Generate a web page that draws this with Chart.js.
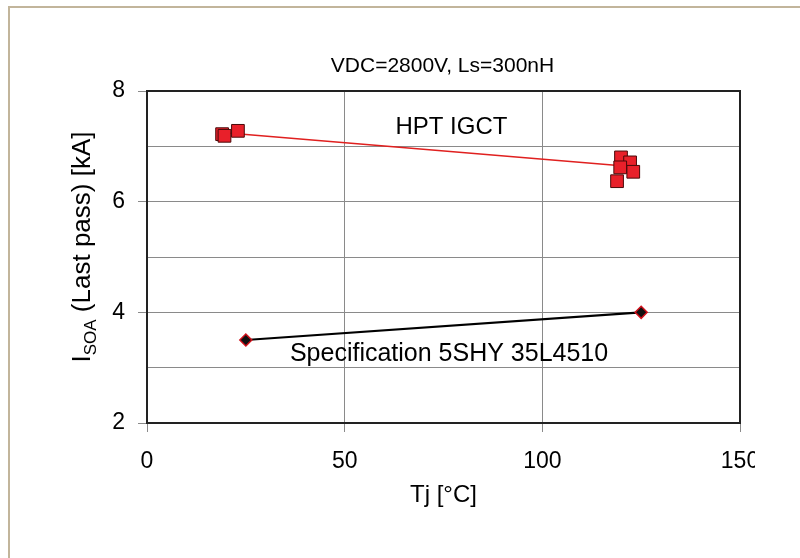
<!DOCTYPE html>
<html>
<head>
<meta charset="utf-8">
<script src="https://cdn.jsdelivr.net/npm/chart.js@4"></script>
<style>
  html, body { margin: 0; padding: 0; background: #fff; }
  body { width: 800px; height: 558px; position: relative; overflow: hidden; }
  #frame { position: absolute; left: 8px; top: 6px; width: 800px; height: 560px;
           border-left: 2px solid #c2b59b; border-top: 2px solid #c2b59b; }
  #wrap { position: absolute; left: 0; top: 0; width: 755px; height: 558px; overflow: hidden; }
</style>
</head>
<body>
<div id="frame"></div>
<div id="wrap"><canvas id="c" width="755" height="558"></canvas></div>
<script>
// ---- data ----
const titleText = 'VDC=2800V, Ls=300nH';
const xTitle = 'Tj [°C]';
const hptTemp = [19, 19.6, 23, 119.9, 122.2, 119.7, 123.0, 118.9];
const hptIsoa = [7.22, 7.19, 7.28, 6.80, 6.71, 6.62, 6.54, 6.37];
const hptTrendTemp = [19, 123];
const hptTrendIsoa = [7.25, 6.63];
const specTemp = [25, 125];
const specIsoa = [3.5, 4.0];
const xTicks = [0, 50, 100, 150];
const yTicks = [2, 4, 6, 8];
const labelHPT = {text: 'HPT IGCT', x: 77, y: 7.35};
const labelSpec = {text: 'Specification 5SHY 35L4510', x: 76.4, y: 3.25};

const FONT = "'Liberation Sans', Arial, sans-serif";
const toPts = (xs, ys) => xs.map((x, i) => ({x, y: ys[i]}));

const textPlugin = {
  id: 'texts',
  beforeDatasetsDraw(chart) {
    const {ctx, chartArea: a} = chart;
    ctx.save();
    ctx.strokeStyle = '#222';
    ctx.lineWidth = 2;
    ctx.strokeRect(a.left, a.top, a.right - a.left, a.bottom - a.top);
    ctx.restore();
  },
  afterDraw(chart) {
    const {ctx, scales, chartArea: a} = chart;
    ctx.save();
    ctx.fillStyle = '#000';
    ctx.textAlign = 'center';
    ctx.textBaseline = 'middle';
    ctx.font = '21px ' + FONT;
    ctx.fillText(titleText, (a.left + a.right) / 2 - 1, 66);
    ctx.font = '24px ' + FONT;
    ctx.fillText(labelHPT.text, scales.x.getPixelForValue(labelHPT.x), scales.y.getPixelForValue(labelHPT.y));
    ctx.font = '25px ' + FONT;
    ctx.fillText(labelSpec.text, scales.x.getPixelForValue(labelSpec.x), scales.y.getPixelForValue(labelSpec.y));
    // y axis title with subscript
    const parts = [
      {t: 'I', f: '26px ' + FONT, dy: 0},
      {t: 'SOA', f: '17px ' + FONT, dy: 6},
      {t: ' (Last pass) [kA]', f: '26px ' + FONT, dy: 0}
    ];
    let total = 0;
    parts.forEach(p => { ctx.font = p.f; p.w = ctx.measureText(p.t).width; total += p.w; });
    ctx.translate(81, 247);
    ctx.rotate(-Math.PI / 2);
    ctx.textAlign = 'left';
    ctx.textBaseline = 'alphabetic';
    let x = -total / 2;
    parts.forEach(p => { ctx.font = p.f; ctx.fillText(p.t, x, 9 + p.dy); x += p.w; });
    ctx.restore();
  }
};

new Chart(document.getElementById('c'), {
  type: 'scatter',
  data: {
    datasets: [
      {
        label: 'HPT IGCT',
        data: toPts(hptTemp, hptIsoa),
        pointStyle: 'rect',
        pointRadius: 9,
        pointBackgroundColor: '#e8202a',
        pointBorderColor: '#4a0a0a',
        pointBorderWidth: 1,
        showLine: false,
        order: 1
      },
      {
        label: 'HPT trend',
        data: toPts(hptTrendTemp, hptTrendIsoa),
        showLine: true,
        borderColor: '#e0201f',
        borderWidth: 1.6,
        pointRadius: 0,
        order: 3
      },
      {
        label: 'Specification',
        data: toPts(specTemp, specIsoa),
        showLine: true,
        borderColor: '#000',
        borderWidth: 2.2,
        pointStyle: 'rectRot',
        pointRadius: 6,
        pointBackgroundColor: '#111',
        pointBorderColor: '#d0101a',
        pointBorderWidth: 1.5,
        order: 2
      }
    ]
  },
  options: {
    responsive: false,
    animation: false,
    devicePixelRatio: 1,
    layout: { padding: { top: 91, left: 0, right: 15, bottom: 0 } },
    plugins: {
      legend: { display: false },
      tooltip: { enabled: false },
      title: { display: false }
    },
    scales: {
      x: {
        type: 'linear',
        min: 0, max: 150,
        afterBuildTicks: s => { s.ticks = xTicks.map(v => ({value: v})); },
        afterFit: s => { s.height = 135; s.paddingRight = 0; s.paddingLeft = 0; },
        border: { display: true, color: '#111', width: 2 },
        grid: { color: '#8a8a8a', lineWidth: 1, tickLength: 9, tickColor: '#8a8a8a' },
        ticks: { color: '#000', font: { family: FONT, size: 23 }, padding: 16, maxRotation: 0 },
        title: { display: true, text: xTitle, color: '#000', font: { family: FONT, size: 24 }, padding: { top: 0, bottom: 48 } }
      },
      y: {
        type: 'linear',
        min: 2, max: 8,
        ticks: {
          stepSize: 1,
          color: '#000',
          font: { family: FONT, size: 23 },
          padding: 13,
          callback: v => (yTicks.includes(v) ? String(v) : '')
        },
        afterFit: s => { s.width = 147; },
        border: { display: true, color: '#111', width: 2 },
        grid: {
          color: '#8a8a8a', lineWidth: 1, tickLength: 9,
          tickColor: ctx => (yTicks.includes(ctx.tick.value) ? '#8a8a8a' : 'rgba(0,0,0,0)')
        }
      }
    }
  },
  plugins: [textPlugin]
});
</script>
</body>
</html>
